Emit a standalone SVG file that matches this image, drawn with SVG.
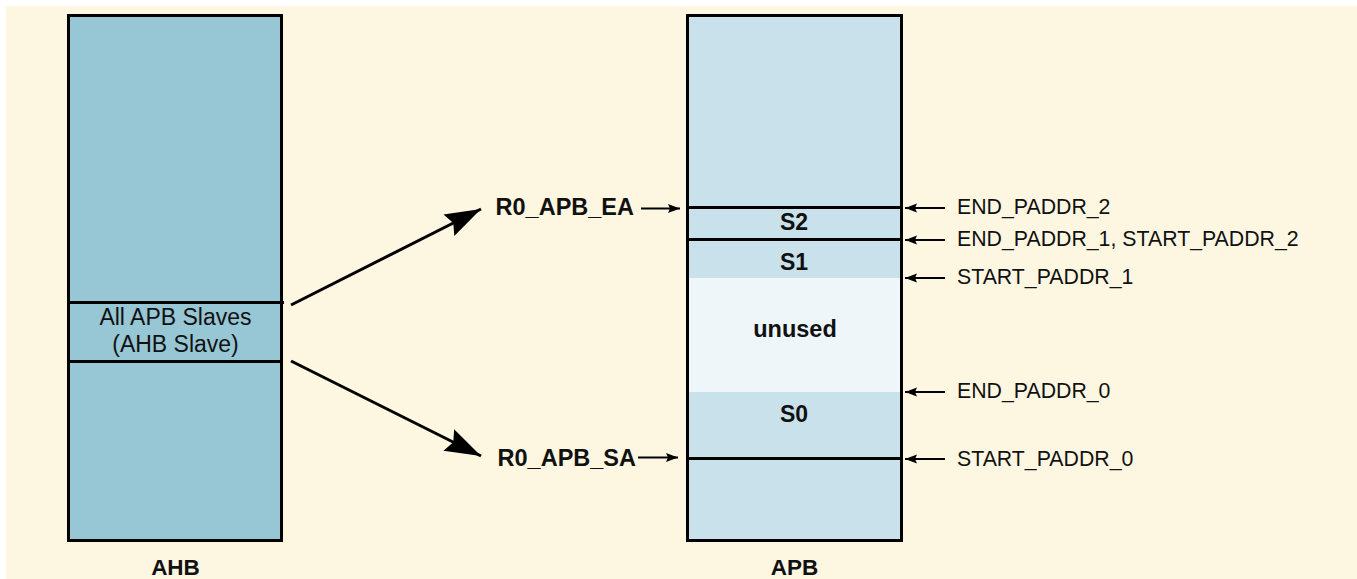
<svg xmlns="http://www.w3.org/2000/svg" width="1357" height="579" viewBox="0 0 1357 579">
<style>
.box{stroke:#000;stroke-width:3}
.div{stroke:#000;stroke-width:3;fill:none}
.lbl{font-family:"Liberation Sans",Arial,sans-serif;fill:#111}
.b{font-weight:bold}
.big{stroke:#000;stroke-width:3;fill:none}
.sm{stroke:#000;stroke-width:2;fill:none}
</style>
<defs>
<marker id="ah" markerUnits="userSpaceOnUse" markerWidth="40" markerHeight="30" refX="36" refY="12" orient="auto">
<path d="M0,0 L36,12 L0,24 L5,12 Z" fill="#000"/>
</marker>
<marker id="as" markerUnits="userSpaceOnUse" markerWidth="14" markerHeight="10" refX="12" refY="4.5" orient="auto">
<path d="M0,0 L12,4.5 L0,9 L2,4.5 Z" fill="#000"/>
</marker>
</defs>
<rect x="6" y="6" width="1351" height="573" fill="#FDF7E2"/>

<g id="ahb">
<rect class="box" x="68.5" y="15.5" width="213" height="525" fill="#97C6D5"/>
<line class="div" x1="68" y1="302.5" x2="284" y2="302.5"/>
<line class="div" x1="68" y1="361.5" x2="282" y2="361.5"/>
<text class="lbl" x="175.5" y="325" font-size="23" text-anchor="middle">All APB Slaves</text>
<text class="lbl" x="175.5" y="352" font-size="23" text-anchor="middle">(AHB Slave)</text>
<text class="lbl b" x="175.5" y="575" font-size="22.5" text-anchor="middle">AHB</text>
</g>

<g id="apb">
<rect class="box" x="687.5" y="15.5" width="214" height="525" fill="#C8E1EB"/>
<rect x="689" y="278" width="211" height="114" fill="#EEF6F9"/>
<line class="div" x1="687" y1="207.5" x2="902" y2="207.5"/>
<line class="div" x1="687" y1="239.5" x2="902" y2="239.5"/>
<line class="div" x1="687" y1="458.5" x2="902" y2="458.5"/>
<text class="lbl b" x="794" y="230" font-size="23" text-anchor="middle">S2</text>
<text class="lbl b" x="794" y="270" font-size="23" text-anchor="middle">S1</text>
<text class="lbl b" x="795" y="337" font-size="23.5" text-anchor="middle">unused</text>
<text class="lbl b" x="794" y="421.5" font-size="23" text-anchor="middle">S0</text>
<text class="lbl b" x="794.5" y="575" font-size="22.5" text-anchor="middle">APB</text>
</g>

<g id="r0-labels">
<text class="lbl b" x="634" y="215" font-size="23.5" text-anchor="end">R0_APB_EA</text>
<text class="lbl b" x="636" y="465.5" font-size="23.5" text-anchor="end">R0_APB_SA</text>
</g>

<g id="addr-labels">
<text class="lbl" x="957" y="214" font-size="21.3">END_PADDR_2</text>
<text class="lbl" x="957" y="245.5" font-size="21.3">END_PADDR_1, START_PADDR_2</text>
<text class="lbl" x="957" y="283.5" font-size="21.3">START_PADDR_1</text>
<text class="lbl" x="957" y="397.5" font-size="21.3">END_PADDR_0</text>
<text class="lbl" x="957" y="466" font-size="21.3">START_PADDR_0</text>
</g>

<g id="connectors">
<line class="big" x1="291" y1="305" x2="481" y2="209" marker-end="url(#ah)"/>
<line class="big" x1="291" y1="361" x2="481" y2="456" marker-end="url(#ah)"/>
<line class="sm" x1="641" y1="208.5" x2="680" y2="208.5" marker-end="url(#as)"/>
<line class="sm" x1="638" y1="457.5" x2="678" y2="457.5" marker-end="url(#as)"/>
<line class="sm" x1="945" y1="208" x2="905" y2="208" marker-end="url(#as)"/>
<line class="sm" x1="945" y1="240" x2="905" y2="240" marker-end="url(#as)"/>
<line class="sm" x1="945" y1="278" x2="905" y2="278" marker-end="url(#as)"/>
<line class="sm" x1="945" y1="392" x2="905" y2="392" marker-end="url(#as)"/>
<line class="sm" x1="945" y1="459" x2="905" y2="459" marker-end="url(#as)"/>
</g>
</svg>
